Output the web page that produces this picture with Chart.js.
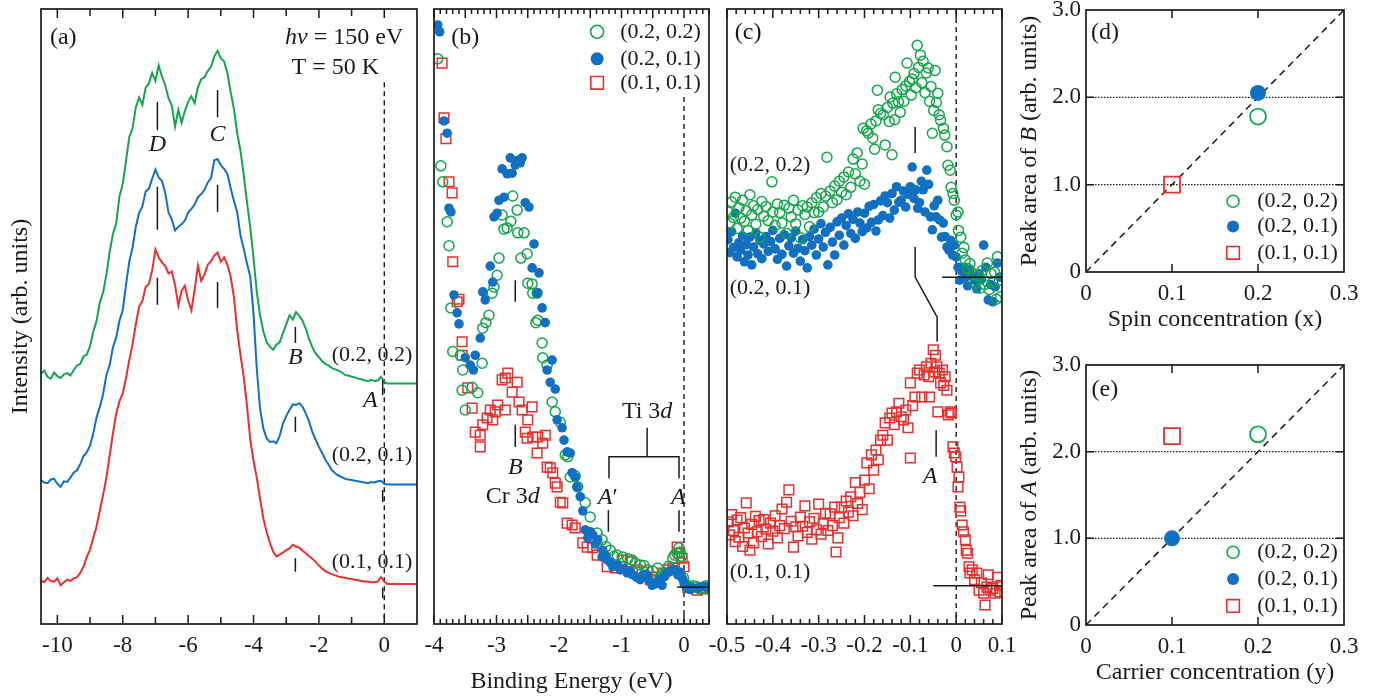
<!DOCTYPE html>
<html>
<head>
<meta charset="utf-8">
<script src="https://cdn.jsdelivr.net/npm/chart.js@4.4.1/dist/chart.umd.min.js"></script>
<style>
  body { margin: 0; background: #fff; width: 1383px; height: 698px; overflow: hidden; position: relative; }
  canvas { position: absolute; }
</style>
</head>
<body>
<canvas id="pa" width="430" height="698" style="left:0;top:0"></canvas>
<canvas id="pb" width="320" height="698" style="left:400px;top:0"></canvas>
<canvas id="pc" width="350" height="698" style="left:690px;top:0"></canvas>
<canvas id="pd" width="383" height="350" style="left:1000px;top:-10px"></canvas>
<canvas id="pe" width="383" height="358" style="left:1000px;top:340px"></canvas>
<script>
"use strict";

const SERIF = "'Liberation Serif', 'Times New Roman', serif";
const INK = "#1a1a1a";
const GREEN = "#13a64a", BLUE = "#1170c2", RED = "#e8302f";

// ── (a) valence band spectra, intensity in arb. units ───────────────────
const ENERGY_A = [-10.5,-10.4,-10.3,-10.2,-10.1,-10.0,-9.9,-9.8,-9.7,-9.6,-9.5,-9.4,-9.3,-9.2,-9.1,-9.0,-8.9,-8.8,-8.7,-8.6,
  -8.5,-8.4,-8.3,-8.2,-8.1,-8.0,-7.9,-7.8,-7.7,-7.6,-7.5,-7.4,-7.3,-7.2,-7.1,-7.0,-6.9,-6.8,-6.7,-6.6,
  -6.5,-6.4,-6.3,-6.2,-6.1,-6.0,-5.9,-5.8,-5.7,-5.6,-5.5,-5.4,-5.3,-5.2,-5.1,-5.0,-4.9,-4.8,-4.7,-4.6,
  -4.5,-4.4,-4.3,-4.2,-4.1,-4.0,-3.9,-3.8,-3.7,-3.6,-3.5,-3.4,-3.3,-3.2,-3.1,-3.0,-2.9,-2.8,-2.7,-2.6,
  -2.5,-2.4,-2.3,-2.2,-2.1,-2.0,-1.9,-1.8,-1.7,-1.6,-1.5,-1.4,-1.3,-1.2,-1.1,-1.0,-0.9,-0.8,-0.7,-0.6,
  -0.5,-0.4,-0.3,-0.2,-0.1,0.0,0.1,0.2,0.3,0.4,0.5,0.6,0.7,0.8,0.9,1.0];
const GREEN_A = [40.7,41.2,40.2,39.9,40.9,40.3,40.0,40.6,40.8,40.4,41.3,42.0,42.3,43.5,43.8,45.2,47.5,49.3,52.3,53.9,
  56.8,60.5,63.4,65.2,69.5,71.6,75.3,79.2,80.6,84.0,85.6,84.4,87.2,87.9,89.6,88.3,90.8,89.0,87.6,85.5,
  84.3,80.9,83.6,81.5,83.4,84.9,85.8,84.7,87.3,88.6,88.9,89.9,90.6,92.3,93.2,92.0,91.5,89.6,86.5,83.8,
  79.8,77.0,73.0,68.6,64.5,59.5,54.0,50.2,47.6,45.9,45.1,44.6,45.4,45.8,47.3,48.7,50.2,49.5,50.7,50.1,
  49.3,48.0,46.3,45.0,44.0,43.4,42.7,42.3,42.0,41.6,41.4,41.2,40.9,40.5,40.4,40.2,40.1,39.9,39.8,39.6,
  39.5,39.7,39.5,39.6,40.2,39.3,39.1,39.1,39.1,39.1,39.1,39.1,39.1,39.1,39.1,39.1];
const BLUE_A = [23.4,23.0,22.9,23.5,23.6,22.8,22.3,23.2,23.1,23.8,24.6,25.0,26.0,27.3,27.9,29.0,31.0,33.6,35.3,37.4,
  40.5,42.1,45.0,46.6,49.3,51.0,55.2,58.9,61.2,64.6,66.8,67.9,70.3,70.8,72.4,73.9,72.6,72.0,70.1,66.9,
  65.8,64.0,64.6,65.0,65.6,66.9,67.5,68.2,69.4,69.9,70.6,71.8,72.5,75.4,75.6,74.6,74.0,73.2,70.9,68.8,
  67.0,63.2,61.0,58.6,56.5,50.5,41.5,35.0,31.8,30.2,29.6,29.7,29.4,30.6,32.6,33.8,34.8,35.7,35.6,35.9,
  35.3,34.2,32.9,31.2,30.0,28.8,27.8,26.7,25.9,25.0,24.5,24.1,23.9,23.6,23.5,23.4,23.3,23.2,23.1,23.0,
  22.9,23.1,23.0,23.2,23.3,22.8,22.7,22.7,22.7,22.7,22.7,22.7,22.7,22.7,22.7,22.7];
const RED_A = [7.1,6.8,7.5,7.0,6.9,7.4,6.3,6.8,7.2,7.0,7.4,7.6,8.3,9.3,10.9,12.1,14.0,15.9,18.5,21.0,
  23.8,27.4,31.0,34.2,36.2,37.5,40.0,42.9,45.5,48.7,51.6,52.5,54.8,55.3,57.5,60.9,59.6,58.8,58.2,57.0,
  57.3,55.1,51.8,54.2,55.0,52.6,51.0,54.4,58.3,55.8,56.8,58.4,59.0,59.9,60.4,58.9,59.6,58.4,56.5,53.2,
  47.8,43.8,40.2,35.5,30.0,26.5,23.8,20.3,17.2,15.0,13.2,11.8,11.0,11.3,11.6,12.0,12.3,12.9,12.6,12.4,
  11.9,11.5,11.0,10.6,10.1,9.5,9.0,8.6,8.3,8.1,7.9,7.7,7.6,7.5,7.4,7.3,7.2,7.1,7.0,6.9,
  6.9,6.8,6.8,6.9,7.6,6.9,6.5,6.5,6.5,6.5,6.5,6.5,6.5,6.5,6.5,6.5];

// ── (b) near-EF region, [energy, intensity] ─────────────────────────────
const B_GREEN = [[-3.94,91.9],[-3.89,74.5],[-3.86,71.9],[-3.79,65.4],[-3.76,61.5],[-3.73,51.4],[-3.7,44.3],[-3.58,43.7],
  [-3.54,41.3],[-3.55,38.0],[-3.5,34.8],[-3.39,38.5],[-3.3,37.6],[-3.23,42.4],[-3.22,48.1],[-3.17,49.0],[-3.12,50.2],
  [-3.07,53.8],[-3.04,54.8],[-2.99,56.7],[-2.96,59.5],[-2.91,66.5],[-2.88,64.2],[-2.83,64.4],[-2.77,65.5],[-2.74,69.6],
  [-2.67,67.3],[-2.66,63.6],[-2.56,63.6],[-2.61,59.5],[-2.51,60.2],[-2.5,55.4],[-2.43,55.3],[-2.42,53.8],[-2.35,53.8],
  [-2.37,49.0],[-2.34,49.4],[-2.27,45.7],[-2.26,43.3],[-2.19,42.1],[-2.11,36.1],[-2.06,34.5],[-1.98,32.8],[-1.9,27.5],
  [-1.86,27.2],[-1.82,23.9],[-1.74,24.1],[-1.7,22.3],[-1.58,19.7],[-1.5,17.4],[-1.39,14.8],[-1.31,13.7],[-1.25,12.6],
  [-1.18,12.0],[-1.12,11.0],[-1.07,11.2],[-0.98,10.9],[-0.9,10.6],[-0.83,10.4],[-0.78,9.9],[-0.7,9.6],[-0.64,9.5],
  [-0.59,8.8],[-0.5,8.6],[-0.42,9.1],[-0.36,8.0],[-0.3,8.3],[-0.24,9.4],[-0.18,10.7],[-0.15,11.2],[-0.11,11.5],
  [-0.08,12.4],[-0.06,11.7],[-0.04,11.0],[-0.01,7.5],[0.02,6.5],[0.05,6.0],[0.1,5.9],[0.14,6.2],[0.2,6.1],[0.26,5.7],
  [0.3,5.8],[0.35,6.2],[0.38,6.0]];
const B_BLUE = [[-3.94,97.4],[-3.91,96.3],[-3.84,81.8],[-3.79,79.8],[-3.76,67.6],[-3.73,67.0],[-3.68,53.5],[-3.63,50.6],
  [-3.6,48.8],[-3.5,43.3],[-3.42,42.1],[-3.37,41.3],[-3.34,43.7],[-3.26,46.5],[-3.22,54.0],[-3.18,52.7],[-3.1,58.2],
  [-3.06,55.6],[-3.04,66.2],[-2.99,66.8],[-2.96,68.9],[-2.91,74.0],[-2.88,69.4],[-2.83,73.2],[-2.78,75.8],[-2.75,73.3],
  [-2.7,74.6],[-2.66,75.4],[-2.62,75.0],[-2.59,75.8],[-2.54,68.5],[-2.48,67.8],[-2.43,57.9],[-2.4,61.8],[-2.35,53.8],
  [-2.32,57.1],[-2.27,51.4],[-2.22,49.0],[-2.19,41.3],[-2.14,39.3],[-2.11,42.9],[-2.06,38.2],[-2.03,33.2],[-1.95,31.9],
  [-1.92,29.9],[-1.87,28.0],[-1.82,27.8],[-1.79,24.6],[-1.74,23.9],[-1.71,22.3],[-1.66,20.7],[-1.62,18.4],[-1.58,15.3],
  [-1.54,14.0],[-1.5,15.0],[-1.46,14.5],[-1.42,13.0],[-1.38,13.7],[-1.31,10.9],[-1.3,12.0],[-1.26,11.2],[-1.22,10.4],
  [-1.18,10.0],[-1.14,9.3],[-1.06,9.6],[-1.02,8.8],[-0.96,9.0],[-0.91,8.3],[-0.86,8.6],[-0.82,8.0],[-0.76,7.6],
  [-0.7,7.2],[-0.66,7.9],[-0.59,8.0],[-0.55,7.0],[-0.51,6.3],[-0.47,6.5],[-0.43,6.8],[-0.39,7.3],[-0.35,6.3],
  [-0.31,7.7],[-0.27,8.3],[-0.23,8.5],[-0.19,8.8],[-0.14,8.8],[-0.1,8.0],[-0.06,8.4],[-0.03,7.5],[0.0,6.8],[0.05,6.0],
  [0.1,5.6],[0.14,5.9],[0.2,5.8],[0.26,6.0],[0.32,6.1],[0.37,6.0]];
const B_RED = [[-3.87,91.2],[-3.84,82.3],[-3.81,78.9],[-3.76,71.9],[-3.71,70.1],[-3.7,58.9],[-3.63,52.4],[-3.6,52.8],
  [-3.55,45.9],[-3.55,43.7],[-3.46,38.4],[-3.39,35.1],[-3.34,31.2],[-3.26,30.7],[-3.26,28.8],[-3.22,32.4],[-3.15,33.5],
  [-3.1,34.8],[-3.06,33.2],[-3.02,34.5],[-2.98,35.6],[-2.91,39.7],[-2.86,34.8],[-2.82,40.8],[-2.86,40.0],[-2.75,37.7],
  [-2.67,39.3],[-2.64,36.1],[-2.59,34.8],[-2.54,31.2],[-2.5,33.2],[-2.51,30.2],[-2.43,35.3],[-2.42,30.4],[-2.35,27.8],
  [-2.34,30.4],[-2.26,29.4],[-2.22,30.7],[-2.19,25.5],[-2.14,25.4],[-2.1,24.6],[-2.06,22.9],[-2.03,22.3],[-1.98,19.8],
  [-1.94,19.7],[-1.87,16.4],[-1.79,16.1],[-1.74,15.6],[-1.62,13.2],[-1.55,12.5],[-1.46,12.4],[-1.39,11.2],[-1.23,9.3],
  [-1.1,9.1],[-0.99,10.4],[-0.86,10.1],[-0.75,8.8],[-0.67,8.5],[-0.54,7.2],[-0.43,7.6],[-0.34,8.3],[-0.26,8.8],
  [-0.18,9.1],[-0.11,12.5],[-0.08,11.5],[-0.03,10.7],[0.0,9.3],[0.06,5.9],[0.21,5.5],[0.3,5.7]];

// ── (c) close-up near EF, [energy, intensity] ───────────────────────────
const C_GREEN = [[-0.497,67.0],[-0.494,65.2],[-0.49,68.6],[-0.486,66.1],[-0.482,69.4],[-0.478,64.3],[-0.474,67.7],
  [-0.47,66.0],[-0.466,68.9],[-0.462,65.5],[-0.458,67.2],[-0.454,64.0],[-0.45,69.8],[-0.446,66.5],[-0.442,68.0],
  [-0.437,65.0],[-0.433,67.4],[-0.428,62.9],[-0.424,68.7],[-0.42,66.3],[-0.415,67.9],[-0.41,65.6],[-0.402,71.9],
  [-0.4,67.0],[-0.395,64.8],[-0.39,68.3],[-0.385,66.9],[-0.38,65.2],[-0.375,68.1],[-0.37,63.5],[-0.365,67.6],
  [-0.36,66.2],[-0.355,68.9],[-0.35,65.1],[-0.345,67.3],[-0.34,62.8],[-0.335,68.0],[-0.33,66.6],[-0.325,67.8],
  [-0.32,64.6],[-0.315,68.5],[-0.31,66.9],[-0.305,69.3],[-0.3,67.0],[-0.295,70.0],[-0.29,67.8],[-0.285,69.6],
  [-0.282,75.9],[-0.275,70.4],[-0.27,68.5],[-0.265,71.2],[-0.26,69.0],[-0.255,72.0],[-0.25,70.2],[-0.245,72.7],
  [-0.24,69.8],[-0.235,73.5],[-0.23,71.0],[-0.225,75.6],[-0.22,73.2],[-0.216,76.6],[-0.21,72.0],[-0.205,74.8],
  [-0.203,80.6],[-0.2,71.5],[-0.195,80.2],[-0.192,79.8],[-0.186,81.3],[-0.182,79.0],[-0.178,77.2],[-0.175,81.8],
  [-0.172,86.8],[-0.17,83.6],[-0.165,83.0],[-0.159,82.8],[-0.155,77.9],[-0.15,84.0],[-0.146,81.7],[-0.144,85.7],
  [-0.14,76.3],[-0.138,84.7],[-0.134,82.0],[-0.133,88.9],[-0.13,86.2],[-0.126,84.9],[-0.122,83.2],[-0.118,86.9],
  [-0.114,85.0],[-0.11,87.5],[-0.107,91.2],[-0.102,88.2],[-0.098,86.0],[-0.096,88.6],[-0.092,89.5],[-0.088,87.2],
  [-0.085,94.1],[-0.082,90.5],[-0.078,92.5],[-0.075,88.0],[-0.072,91.5],[-0.068,86.4],[-0.065,89.6],[-0.061,90.4],
  [-0.058,85.0],[-0.055,87.4],[-0.052,79.8],[-0.049,83.5],[-0.046,90.0],[-0.043,84.8],[-0.04,86.3],[-0.037,82.8],
  [-0.034,81.9],[-0.028,80.6],[-0.025,79.5],[-0.02,77.6],[-0.018,74.6],[-0.013,73.8],[-0.011,71.0],[-0.007,70.0],
  [-0.004,68.9],[0.0,66.5],[0.004,67.0],[0.005,64.0],[0.01,62.9],[0.013,60.3],[0.017,61.2],[0.02,59.2],[0.025,57.8],
  [0.03,58.6],[0.037,57.0],[0.042,55.4],[0.047,56.6],[0.052,54.6],[0.057,57.5],[0.062,55.2],[0.068,58.7],[0.072,54.4],
  [0.076,57.0],[0.08,55.6],[0.084,57.2],[0.088,52.8],[0.09,59.7],[0.094,55.9],[0.097,53.2]];
const C_BLUE = [[-0.498,62.5],[-0.494,60.4],[-0.49,63.8],[-0.486,61.2],[-0.482,66.8],[-0.478,59.7],[-0.474,62.0],
  [-0.47,60.8],[-0.466,63.1],[-0.462,58.9],[-0.458,61.7],[-0.454,60.0],[-0.45,62.9],[-0.446,58.4],[-0.442,61.3],
  [-0.437,63.6],[-0.433,60.2],[-0.428,62.4],[-0.424,59.4],[-0.42,61.8],[-0.415,63.0],[-0.41,60.6],[-0.405,62.2],
  [-0.4,64.0],[-0.395,61.0],[-0.39,59.3],[-0.385,62.7],[-0.38,60.1],[-0.375,63.3],[-0.37,58.2],[-0.365,61.5],
  [-0.36,62.8],[-0.355,60.3],[-0.35,63.9],[-0.345,61.1],[-0.34,59.0],[-0.335,62.5],[-0.33,60.7],[-0.325,57.9],
  [-0.32,63.0],[-0.315,61.6],[-0.31,64.2],[-0.305,60.0],[-0.3,62.6],[-0.295,65.1],[-0.29,61.3],[-0.285,63.7],
  [-0.28,58.4],[-0.275,64.5],[-0.27,62.1],[-0.265,60.0],[-0.26,65.4],[-0.255,63.2],[-0.25,66.0],[-0.245,61.6],
  [-0.24,64.8],[-0.235,66.7],[-0.23,63.5],[-0.225,65.8],[-0.22,62.7],[-0.215,67.0],[-0.21,65.2],[-0.205,63.8],
  [-0.2,66.8],[-0.195,64.4],[-0.19,67.9],[-0.185,65.3],[-0.18,68.2],[-0.175,63.9],[-0.17,65.7],[-0.165,68.8],
  [-0.16,66.4],[-0.155,69.6],[-0.15,68.5],[-0.145,66.0],[-0.14,70.0],[-0.135,67.3],[-0.13,71.1],[-0.125,68.6],
  [-0.12,68.9],[-0.115,70.4],[-0.11,67.8],[-0.105,69.9],[-0.1,71.1],[-0.096,74.3],[-0.092,69.2],[-0.088,70.6],
  [-0.084,67.6],[-0.08,68.5],[-0.076,72.0],[-0.072,70.6],[-0.068,67.0],[-0.064,73.8],[-0.06,71.5],[-0.056,66.2],
  [-0.052,64.1],[-0.048,68.0],[-0.044,66.2],[-0.04,68.9],[-0.036,65.7],[-0.032,62.9],[-0.028,65.2],[-0.024,63.0],
  [-0.02,61.3],[-0.016,60.8],[-0.012,62.4],[-0.008,60.0],[-0.004,61.6],[0.0,59.7],[0.004,58.0],[0.008,55.9],
  [0.012,57.4],[0.016,58.0],[0.02,56.4],[0.025,55.0],[0.03,57.6],[0.035,56.6],[0.04,55.9],[0.045,54.5],[0.05,57.0],
  [0.055,56.0],[0.06,61.6],[0.065,58.0],[0.07,52.7],[0.075,55.2],[0.08,52.4],[0.085,54.8],[0.09,58.7],[0.095,56.4]];
const C_RED = [[-0.497,16.6],[-0.494,14.5],[-0.49,17.8],[-0.486,15.2],[-0.482,13.4],[-0.478,16.9],[-0.474,14.1],
  [-0.47,17.3],[-0.466,12.6],[-0.462,15.6],[-0.458,19.7],[-0.454,14.8],[-0.45,12.0],[-0.446,16.2],[-0.442,13.2],
  [-0.438,17.5],[-0.434,15.0],[-0.43,16.8],[-0.425,14.2],[-0.42,17.0],[-0.415,15.4],[-0.41,13.0],[-0.405,16.4],
  [-0.4,15.1],[-0.395,17.6],[-0.39,14.0],[-0.385,16.0],[-0.38,18.7],[-0.375,15.5],[-0.37,19.8],[-0.365,21.8],
  [-0.36,16.7],[-0.355,12.5],[-0.35,15.8],[-0.345,14.3],[-0.34,17.4],[-0.335,15.9],[-0.33,19.2],[-0.325,14.9],
  [-0.32,16.6],[-0.315,13.8],[-0.31,17.2],[-0.305,15.3],[-0.3,19.5],[-0.295,14.6],[-0.29,16.3],[-0.285,18.0],
  [-0.28,15.2],[-0.275,17.9],[-0.27,16.0],[-0.265,19.0],[-0.262,11.7],[-0.258,14.0],[-0.255,17.3],[-0.25,19.0],
  [-0.245,16.4],[-0.24,20.0],[-0.235,18.2],[-0.23,20.7],[-0.225,17.6],[-0.22,23.0],[-0.215,19.6],[-0.21,21.4],
  [-0.205,18.6],[-0.2,23.4],[-0.195,26.2],[-0.19,22.0],[-0.185,27.5],[-0.18,25.0],[-0.175,28.3],[-0.17,26.7],
  [-0.165,29.9],[-0.16,30.7],[-0.155,32.7],[-0.15,29.9],[-0.145,33.5],[-0.14,34.3],[-0.135,32.4],[-0.13,34.5],
  [-0.125,35.9],[-0.12,33.7],[-0.115,33.2],[-0.11,34.8],[-0.105,31.9],[-0.1,39.2],[-0.1,27.0],[-0.095,35.5],
  [-0.09,36.9],[-0.085,40.8],[-0.08,41.3],[-0.075,36.9],[-0.07,40.5],[-0.065,41.8],[-0.06,40.2],[-0.058,36.9],
  [-0.055,42.4],[-0.05,44.6],[-0.047,41.0],[-0.045,43.7],[-0.042,41.8],[-0.04,34.5],[-0.037,40.8],[-0.034,39.2],
  [-0.03,41.3],[-0.027,38.8],[-0.024,40.2],[-0.02,38.0],[-0.017,34.0],[-0.013,34.5],[-0.01,34.3],[-0.007,28.8],
  [-0.004,27.8],[-0.001,27.2],[0.002,25.5],[0.004,22.3],[0.006,23.9],[0.008,19.0],[0.01,18.4],[0.013,16.1],
  [0.016,15.0],[0.02,13.7],[0.022,12.0],[0.025,11.5],[0.028,9.3],[0.03,8.3],[0.035,8.8],[0.04,7.2],[0.045,8.3],
  [0.05,5.5],[0.055,6.7],[0.06,5.0],[0.063,3.1],[0.067,6.0],[0.07,8.0],[0.075,5.5],[0.08,5.8],[0.085,5.0],
  [0.09,7.6],[0.095,5.2],[0.098,6.3]];

// ── (d)/(e) peak areas vs concentration ─────────────────────────────────
const SPIN_X = { green: 0.2, blue: 0.2, red: 0.1 };
const AREA_B = { green: 1.78, blue: 2.05, red: 1.0 };
const CARRIER_Y = { green: 0.2, blue: 0.1, red: 0.1 };
const AREA_A = { green: 2.2, blue: 1.0, red: 2.18 };
const GUIDE = [[0, 0], [0.3, 3.0]];

const SAMPLES = ["(0.2, 0.2)", "(0.2, 0.1)", "(0.1, 0.1)"];
const TICKS_A = [-10, -8, -6, -4, -2, 0];
const TICKS_B = [-4, -3, -2, -1, 0];
const TICKS_C = [-0.5, -0.4, -0.3, -0.2, -0.1, 0, 0.1];
const LABELS_C = ["-0.5", "-0.4", "-0.3", "-0.2", "-0.1", "0", "0.1"];
const TICKS_CONC = [0, 0.1, 0.2, 0.3];
const LABELS_CONC = ["0", "0.1", "0.2", "0.3"];
const TICKS_AREA = [0, 1, 2, 3];
const LABELS_AREA = ["0", "1.0", "2.0", "3.0"];

Chart.defaults.font.family = SERIF;
Chart.defaults.color = INK;

// ── drawing helpers ─────────────────────────────────────────────────────
function richText(ctx, parts, x, y, align, size) {
  const fonts = parts.map(([, it]) => `${it ? "italic " : ""}${size}px ${SERIF}`);
  let w = 0;
  parts.forEach(([t], i) => { ctx.font = fonts[i]; w += ctx.measureText(t).width; });
  let cx = align === "center" ? x - w / 2 : align === "right" ? x - w : x;
  ctx.textAlign = "left";
  ctx.textBaseline = "middle";
  parts.forEach(([t], i) => { ctx.font = fonts[i]; ctx.fillText(t, cx, y); cx += ctx.measureText(t).width; });
}

function drawMark(ctx, style, X, Y, r, color) {
  ctx.lineWidth = 1.6;
  ctx.strokeStyle = color;
  ctx.fillStyle = color;
  ctx.beginPath();
  if (style === "rect") { ctx.rect(X - r, Y - r, 2 * r, 2 * r); ctx.stroke(); }
  else { ctx.arc(X, Y, r, 0, 2 * Math.PI); style === "dot" ? ctx.fill() : ctx.stroke(); }
}

const toPx = (chart, p) => [chart.scales.x.getPixelForValue(p[0]), chart.scales.y.getPixelForValue(p[1])];

function drawItems(chart, items) {
  const ctx = chart.ctx;
  items.forEach((it) => {
    ctx.save();
    if (it.type === "line") {
      ctx.strokeStyle = it.color || INK;
      ctx.lineWidth = it.width || 1.5;
      ctx.setLineDash(it.dash || []);
      ctx.beginPath();
      it.pts.forEach((p, i) => { const [X, Y] = toPx(chart, p); i ? ctx.lineTo(X, Y) : ctx.moveTo(X, Y); });
      ctx.stroke();
    } else if (it.type === "text") {
      const [X, Y] = toPx(chart, it.at);
      ctx.fillStyle = INK;
      richText(ctx, it.parts, X, Y, it.align || "center", it.size || 22);
    } else if (it.type === "ytitle") {
      const a = chart.chartArea;
      ctx.fillStyle = INK;
      ctx.translate(a.left + it.dx, (a.top + a.bottom) / 2);
      ctx.rotate(-Math.PI / 2);
      richText(ctx, it.parts, 0, 0, "center", 24);
    } else if (it.type === "mark") {
      const [X, Y] = toPx(chart, it.at);
      drawMark(ctx, it.style, X, Y, it.r, it.color);
    }
    ctx.restore();
  });
}

function drawTicks(chart, t, axis) {
  const { ctx, chartArea: a } = chart;
  const sc = chart.scales[axis];
  for (let i = 0; ; i++) {
    const v = t.from + i * t.step;
    if (v > t.to + 1e-9) break;
    const major = Math.abs(v / t.major - Math.round(v / t.major)) < 1e-6;
    const len = major ? t.len : t.minorLen;
    const p = sc.getPixelForValue(v);
    ctx.beginPath();
    if (axis === "x") {
      ctx.moveTo(p, a.bottom); ctx.lineTo(p, a.bottom - len);
      ctx.moveTo(p, a.top); ctx.lineTo(p, a.top + len);
    } else {
      ctx.moveTo(a.left, p); ctx.lineTo(a.left + len, p);
      ctx.moveTo(a.right, p); ctx.lineTo(a.right - len, p);
    }
    ctx.stroke();
  }
}

const decor = {
  id: "decor",
  beforeDatasetsDraw(chart, args, o) { drawItems(chart, o.under || []); },
  afterDatasetsDraw(chart, args, o) {
    const { ctx, chartArea: a } = chart;
    drawItems(chart, o.over || []);
    ctx.save();
    ctx.strokeStyle = INK;
    ctx.lineWidth = 1.5;
    if (o.xTicks) drawTicks(chart, o.xTicks, "x");
    if (o.yTicks) drawTicks(chart, o.yTicks, "y");
    ctx.lineWidth = 1.7;
    ctx.strokeRect(a.left, a.top, a.right - a.left, a.bottom - a.top);
    ctx.restore();
  },
};

function xAxis(min, max, ticks, labels, height, title, titlePad) {
  return {
    type: "linear", min, max,
    afterBuildTicks: (s) => { s.ticks = ticks.map((v) => ({ value: v })); },
    afterFit: (s) => { s.height = height; },
    ticks: { autoSkip: false, maxRotation: 0, padding: 8, font: { size: 23 }, color: INK, callback: (v, i) => labels[i] },
    grid: { display: false, drawTicks: false },
    border: { display: false },
    title: title
      ? { display: true, text: title, font: { size: 24 }, color: INK, padding: { top: 0, bottom: titlePad } }
      : { display: false },
  };
}

const hiddenY = { display: false, min: 0, max: 100 };

function areaY() {
  return {
    type: "linear", min: 0, max: 3,
    afterBuildTicks: (s) => { s.ticks = TICKS_AREA.map((v) => ({ value: v })); },
    afterFit: (s) => { s.width = 86; },
    ticks: { padding: 5, font: { size: 23 }, color: INK, callback: (v, i) => LABELS_AREA[i] },
    grid: { display: false, drawTicks: false },
    border: { display: false },
  };
}

const baseOpts = (padding) => ({
  responsive: false,
  animation: false,
  devicePixelRatio: 1,
  layout: { padding },
  plugins: { legend: { display: false }, tooltip: { enabled: false } },
  events: [],
});

const pairs = (arr) => arr.map(([x, y]) => ({ x, y }));
const open = (data, color, r) => ({ data: pairs(data), pointStyle: "circle", pointRadius: r, pointBorderWidth: 1.5, borderColor: color, backgroundColor: "rgba(0,0,0,0)" });
const dot = (data, color, r) => ({ data: pairs(data), pointStyle: "circle", pointRadius: r, pointBorderWidth: 0, borderColor: color, backgroundColor: color });
const box = (data, color, r) => ({ data: pairs(data), pointStyle: "rect", pointRadius: r, pointBorderWidth: 1.5, borderColor: color, backgroundColor: "rgba(0,0,0,0)" });
const seg = (pts, extra) => Object.assign({ type: "line", pts }, extra || {});
const txt = (at, parts, align, size) => ({ type: "text", at, parts, align, size });
const plain = (s) => [[s, false]];
const ital = (s) => [[s, true]];

// ── (a) ──────────────────────────────────────────────────────────────────
const curve = (vals, color) => ({
  data: ENERGY_A.map((e, i) => ({ x: e, y: vals[i] })),
  showLine: true, borderColor: color, borderWidth: 2, pointRadius: 0, tension: 0,
});
new Chart(document.getElementById("pa"), {
  type: "scatter",
  data: { datasets: [curve(GREEN_A, GREEN), curve(BLUE_A, BLUE), curve(RED_A, RED)] },
  options: Object.assign(baseOpts({ top: 9, right: 13 }), {
    scales: {
      x: xAxis(-10.5, 1, TICKS_A, TICKS_A.map(String), 74),
      y: {
        type: "linear", min: 0, max: 100,
        afterFit: (s) => { s.width = 41; },
        ticks: { display: false },
        grid: { display: false, drawTicks: false },
        border: { display: false },
        title: { display: true, text: "Intensity (arb. units)", font: { size: 24 }, color: INK, padding: { top: 6, bottom: 0 } },
      },
    },
    plugins: {
      legend: { display: false }, tooltip: { enabled: false },
      decor: {
        xTicks: { from: -10, to: 0, step: 1, major: 2, len: 9, minorLen: 7 },
        under: [seg([[0, 88.1], [0, 0]], { dash: [5, 4], width: 1.4 })],
        over: [
          seg([[-6.94, 84.9], [-6.94, 80.3]]), seg([[-6.94, 71.1], [-6.94, 64.1]]), seg([[-6.94, 56.3], [-6.94, 51.9]]),
          seg([[-5.1, 86.8], [-5.1, 82.4]]), seg([[-5.1, 71.4], [-5.1, 67.0]]), seg([[-5.1, 55.6], [-5.1, 51.4]]),
          seg([[-2.72, 48.3], [-2.72, 45.7]]), seg([[-2.72, 33.7], [-2.72, 31.2]]), seg([[-2.72, 10.7], [-2.72, 8.5]]),
          seg([[-0.05, 39.7], [-0.05, 37.2]]), seg([[-0.05, 21.8], [-0.05, 19.8]]), seg([[-0.05, 5.9], [-0.05, 4.2]]),
          txt([-6.94, 77.9], ital("D"), "center", 24),
          txt([-5.1, 79.5], ital("C"), "center", 24),
          txt([-2.72, 43.3], ital("B"), "center", 24),
          txt([-0.43, 36.3], ital("A"), "center", 24),
          txt([0.86, 43.7], plain(SAMPLES[0]), "right", 22),
          txt([0.86, 27.5], plain(SAMPLES[1]), "right", 22),
          txt([0.86, 10.1], plain(SAMPLES[2]), "right", 22),
          txt([-9.82, 95.3], plain("(a)"), "center", 24),
          txt([0.58, 95.3], [["h", true], ["ν", true], [" = 150 eV", false]], "right", 24),
          txt([-1.5, 90.4], plain("T = 50 K"), "center", 24),
        ],
      },
    },
  }),
  plugins: [decor],
});

// ── (b) ──────────────────────────────────────────────────────────────────
new Chart(document.getElementById("pb"), {
  type: "scatter",
  data: { datasets: [dot(B_BLUE, BLUE, 4.8), open(B_GREEN, GREEN, 5), box(B_RED, RED, 6.8)] },
  options: Object.assign(baseOpts({ top: 9, left: 34, right: 11 }), {
    scales: {
      x: xAxis(-4, 0.4, TICKS_B, TICKS_B.map(String), 74, "Binding Energy (eV)", 2),
      y: hiddenY,
    },
    plugins: {
      legend: { display: false }, tooltip: { enabled: false },
      decor: {
        xTicks: { from: -4, to: 0.4, step: 0.1, major: 0.5, len: 9, minorLen: 5 },
        under: [seg([[0, 85.7], [0, 0]], { dash: [5, 4], width: 1.4 })],
        over: [
          txt([-3.5, 95.4], plain("(b)"), "center", 24),
          { type: "mark", style: "open", at: [-1.39, 96.3], r: 6.5, color: GREEN },
          { type: "mark", style: "dot", at: [-1.39, 91.9], r: 6.5, color: BLUE },
          { type: "mark", style: "rect", at: [-1.39, 88.0], r: 6.3, color: RED },
          txt([-1.02, 96.3], plain(SAMPLES[0]), "left", 22),
          txt([-1.02, 91.9], plain(SAMPLES[1]), "left", 22),
          txt([-1.02, 88.0], plain(SAMPLES[2]), "left", 22),
          seg([[-2.7, 55.9], [-2.7, 52.4]]), seg([[-2.7, 32.4], [-2.7, 28.8]]),
          txt([-2.7, 25.4], ital("B"), "center", 24),
          txt([-2.74, 20.7], [["Cr 3", false], ["d", true]], "center", 24),
          seg([[-1.2, 23.7], [-1.2, 27.2], [-0.08, 27.2], [-0.08, 23.7]]),
          seg([[-0.59, 27.2], [-0.59, 31.9]]),
          txt([-0.59, 34.5], [["Ti 3", false], ["d", true]], "center", 24),
          txt([-1.22, 20.5], [["A", true], ["′", false]], "center", 24),
          txt([-0.09, 20.5], ital("A"), "center", 24),
          seg([[-1.21, 18.5], [-1.21, 15.0]]), seg([[-0.08, 18.5], [-0.08, 15.0]]),
          seg([[-0.11, 6.0], [0.4, 6.0]]),
        ],
      },
    },
  }),
  plugins: [decor],
});

// ── (c) ──────────────────────────────────────────────────────────────────
new Chart(document.getElementById("pc"), {
  type: "scatter",
  data: { datasets: [open(C_GREEN, GREEN, 5), dot(C_BLUE, BLUE, 4.8), box(C_RED, RED, 6.8)] },
  options: Object.assign(baseOpts({ top: 9, left: 37, right: 38 }), {
    scales: {
      x: xAxis(-0.5, 0.1, TICKS_C, LABELS_C, 74),
      y: hiddenY,
    },
    plugins: {
      legend: { display: false }, tooltip: { enabled: false },
      decor: {
        xTicks: { from: -0.5, to: 0.1, step: 0.02, major: 0.1, len: 9, minorLen: 5 },
        under: [seg([[0, 100], [0, 0]], { dash: [5, 4], width: 1.4 })],
        over: [
          txt([-0.454, 96.1], plain("(c)"), "center", 24),
          txt([-0.406, 74.6], plain(SAMPLES[0]), "center", 22),
          txt([-0.406, 54.6], plain(SAMPLES[1]), "center", 22),
          txt([-0.406, 8.5], plain(SAMPLES[2]), "center", 22),
          seg([[-0.0895, 80.8], [-0.0895, 76.6]]),
          seg([[-0.0895, 61.3], [-0.0895, 56.4], [-0.0415, 49.9], [-0.0415, 45.9]]),
          seg([[-0.0437, 31.5], [-0.0437, 27.2]]),
          txt([-0.057, 23.9], ital("A"), "center", 24),
          seg([[-0.0306, 56.4], [0.1, 56.4]]),
          seg([[-0.05, 6.2], [0.1, 6.2]]),
        ],
      },
    },
  }),
  plugins: [decor],
});

// ── (d) and (e) ──────────────────────────────────────────────────────────
function areaChart(id, xs, ys, pad, xHeight, xTitle, titlePad, tag, tagY, peak, legendY) {
  const guide = { data: pairs(GUIDE), showLine: true, borderColor: INK, borderWidth: 1.5, borderDash: [7, 5], pointRadius: 0 };
  return new Chart(document.getElementById(id), {
    type: "scatter",
    data: {
      datasets: [
        dot([[xs.blue, ys.blue]], BLUE, 8),
        Object.assign(open([[xs.green, ys.green]], GREEN, 8), { pointBorderWidth: 1.8 }),
        Object.assign(box([[xs.red, ys.red]], RED, 11.3), { pointBorderWidth: 1.8 }),
        guide,
      ],
    },
    options: Object.assign(baseOpts(pad), {
      scales: { x: xAxis(0, 0.3, TICKS_CONC, LABELS_CONC, xHeight, xTitle, titlePad), y: areaY() },
      plugins: {
        legend: { display: false }, tooltip: { enabled: false },
        decor: {
          xTicks: { from: 0.1, to: 0.2, step: 0.1, major: 0.1, len: 8, minorLen: 8 },
          yTicks: { from: 1, to: 2, step: 1, major: 1, len: 8, minorLen: 8 },
          under: [
            seg([[0, 1], [0.3, 1]], { dash: [1.5, 1.5], width: 1.2 }),
            seg([[0, 2], [0.3, 2]], { dash: [1.5, 1.5], width: 1.2 }),
          ],
          over: [
            txt([0.022, tagY], plain(tag), "center", 24),
            { type: "mark", style: "open", at: [0.171, legendY[0]], r: 6, color: GREEN },
            { type: "mark", style: "dot", at: [0.171, legendY[1]], r: 6, color: BLUE },
            { type: "mark", style: "rect", at: [0.171, legendY[2]], r: 6.3, color: RED },
            txt([0.199, legendY[0]], plain(SAMPLES[0]), "left", 22),
            txt([0.199, legendY[1]], plain(SAMPLES[1]), "left", 22),
            txt([0.199, legendY[2]], plain(SAMPLES[2]), "left", 22),
            { type: "ytitle", dx: -56, parts: [["Peak area of ", false], [peak, true], [" (arb. units)", false]] },
          ],
        },
      },
    }),
    plugins: [decor],
  });
}

areaChart("pd", SPIN_X, AREA_B, { top: 20, right: 39 }, 68, "Spin concentration (x)", 6, "(d)", 2.74, "B", [0.81, 0.52, 0.22]);
areaChart("pe", CARRIER_Y, AREA_A, { top: 25, right: 39 }, 73, "Carrier concentration (y)", 11, "(e)", 2.71, "A", [0.84, 0.53, 0.22]);
</script>
</body>
</html>
